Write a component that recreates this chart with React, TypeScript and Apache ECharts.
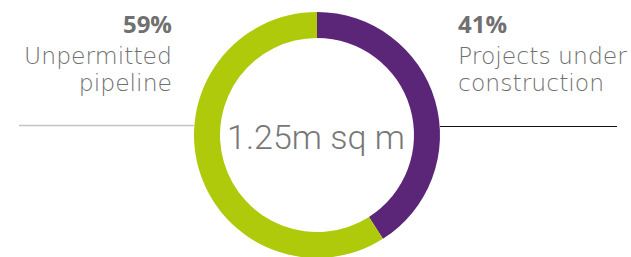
import React, { useEffect, useRef } from "react";
import * as echarts from "echarts";

const categories = ["Projects under construction", "Unpermitted pipeline"];
const shares = [41, 59];
const colors = ["#5b2678", "#afca0b"];
const labelLines = [["Projects under", "construction"], ["Unpermitted", "pipeline"]];
const totalLabel = "1.25m sq m";

export default function App() {
  const ref = useRef<HTMLDivElement>(null);
  useEffect(() => {
    document.body.style.margin = "0";
    const chart = echarts.init(ref.current!, null, { renderer: "svg" });
    const lab = "'Open Sans', Lato, sans-serif";
    const thin = "'DejaVu Sans', 'Open Sans', sans-serif";
    const ctr = "Roboto, Lato, sans-serif";
    const grey = "#707070";
    const sideX = [458, 172];
    const aligns = ["left", "right"];
    const texts: any[] = [];
    shares.forEach((s, i) => {
      texts.push({
        type: "text", x: sideX[i], y: 23.5,
        style: { text: s + "%", font: `bold 24px ${lab}`, fill: grey, textAlign: aligns[i], textVerticalAlign: "middle" },
      });
      labelLines[i].forEach((line, j) => {
        texts.push({
          type: "text", x: sideX[i], y: 56 + j * 27,
          style: { text: line, font: `200 23.5px ${thin}`, fill: grey, textAlign: aligns[i], textVerticalAlign: "middle" },
        });
      });
    });
    chart.setOption({
      animation: false,
      backgroundColor: "#ffffff",
      series: [
        {
          type: "pie",
          silent: true,
          center: [317, 135],
          radius: [97, 123],
          startAngle: 90,
          clockwise: true,
          label: { show: false },
          labelLine: { show: false },
          data: categories.map((c, i) => ({
            name: c,
            value: shares[i],
            itemStyle: { color: colors[i] },
          })),
        },
      ],
      graphic: [
        { type: "line", shape: { x1: 19, y1: 125.5, x2: 194, y2: 125.5 }, style: { stroke: "#c4c4c4", lineWidth: 1.5 } },
        { type: "line", shape: { x1: 440, y1: 126.5, x2: 617, y2: 126.5 }, style: { stroke: "#111111", lineWidth: 1 } },
        ...texts,
        {
          type: "text", x: 316, y: 137,
          style: { text: totalLabel, font: `300 34px ${ctr}`, fill: "#777777", textAlign: "center", textVerticalAlign: "middle" },
        },
      ],
    });
    return () => chart.dispose();
  }, []);
  return <div ref={ref} style={{ width: 631, height: 257 }} />;
}
